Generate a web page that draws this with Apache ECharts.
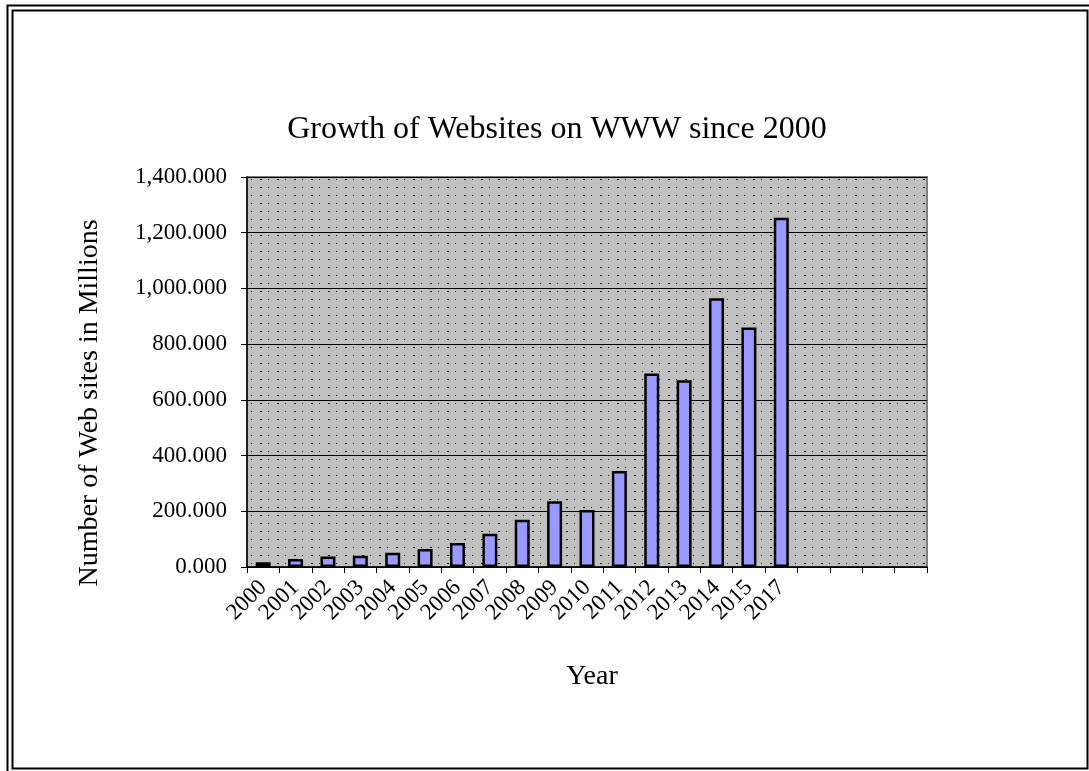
<!DOCTYPE html>
<html>
<head>
<meta charset="utf-8">
<script src="https://cdn.jsdelivr.net/npm/echarts@6/dist/echarts.min.js"></script>
<style>
html,body{margin:0;padding:0;background:#fff;}
#chart{width:1089px;height:771px;}
</style>
</head>
<body>
<div id="chart"></div>
<script>
// ---- data ----
var categories = ['2000','2001','2002','2003','2004','2005','2006','2007','2008','2009','2010','2011','2012','2013','2014','2015','2017','','','',''];
var websites = [17, 29, 38, 40, 51, 65, 86, 119, 170, 236, 205, 345, 695, 670, 965, 860, 1254, null, null, null, null];
var yTicks = { min: 0, max: 1400, interval: 200 };
var titleText = 'Growth of Websites on WWW since 2000';
var yName = 'Number of Web sites in Millions';
var xName = 'Year';

// dotted pattern for plot background
function makePattern() {
  var c = document.createElement('canvas');
  c.width = 17; c.height = 8;
  var ctx = c.getContext('2d');
  ctx.fillStyle = '#c0c0c0';
  ctx.fillRect(0, 0, 17, 8);
  ctx.fillStyle = '#000000';
  ctx.fillRect(5, 3, 2, 1);
  ctx.fillStyle = '#202020';
  ctx.fillRect(13, 3, 1, 1);
  return c;
}

var font = '"Liberation Serif", "Times New Roman", serif';
var chart = echarts.init(document.getElementById('chart'), null, { renderer: 'canvas' });
chart.setOption({
  animation: false,
  backgroundColor: '#ffffff',
  title: {
    text: titleText,
    left: 552,
    top: 109,
    textAlign: 'center',
    textStyle: { fontFamily: font, fontSize: 32, fontWeight: 'normal', color: '#000' }
  },
  grid: {
    left: 247, top: 177, right: 162, bottom: 204,
    show: true,
    backgroundColor: { image: makePattern(), repeat: 'repeat' },
    borderColor: '#808080',
    borderWidth: 2
  },
  xAxis: {
    type: 'category',
    data: categories,
    boundaryGap: true,
    name: xName,
    nameLocation: 'middle',
    nameGap: 96,
    nameTextStyle: { fontFamily: font, fontSize: 28, color: '#000', padding: [0, 0, 0, 10] },
    axisLine: { lineStyle: { color: '#000', width: 1.5 } },
    axisTick: { show: true, alignWithLabel: false, length: 6, lineStyle: { color: '#000' } },
    axisLabel: {
      interval: 0, rotate: 45, margin: 17,
      fontFamily: font, fontSize: 23, color: '#000'
    },
    splitLine: { show: false }
  },
  yAxis: {
    type: 'value',
    min: yTicks.min, max: yTicks.max, interval: yTicks.interval,
    axisLine: { show: true, lineStyle: { color: '#000', width: 1.5 } },
    axisTick: { show: true, length: 6, lineStyle: { color: '#000' } },
    axisLabel: {
      margin: 20,
      fontFamily: font, fontSize: 23, color: '#000',
      formatter: function (v) {
        return v.toLocaleString('en-US', { minimumFractionDigits: 3, maximumFractionDigits: 3 });
      }
    },
    splitLine: { show: true, lineStyle: { color: '#000', width: 1 } }
  },
  series: [{
    type: 'bar',
    data: websites,
    barWidth: 15,
    itemStyle: { color: '#9999ff', borderColor: '#000', borderWidth: 2.5 }
  }],
  graphic: [
    {
      type: 'text',
      x: 90, y: 403,
      rotation: Math.PI / 2,
      style: {
        text: yName,
        font: '28px ' + font,
        fill: '#000',
        textAlign: 'center',
        textVerticalAlign: 'middle'
      }
    },
    {
      type: 'polyline',
      shape: { points: [[7.5, 771], [7.5, 5.5], [1089, 5.5]] },
      style: { fill: 'none', stroke: '#000', lineWidth: 2 },
      silent: true
    },
    {
      type: 'rect',
      shape: { x: 12.5, y: 10.5, width: 1075, height: 758 },
      style: { fill: 'none', stroke: '#000', lineWidth: 2 },
      silent: true
    }
  ]
});
</script>
</body>
</html>
